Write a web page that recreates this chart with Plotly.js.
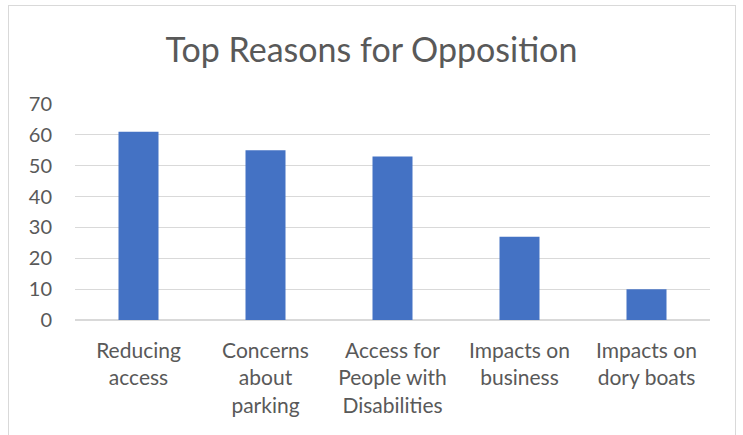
<!DOCTYPE html>
<html>
<head>
<meta charset="utf-8">
<script src="https://cdn.plot.ly/plotly-3.0.1.min.js"></script>
<style>
html,body{margin:0;padding:0;background:#fff;}
#frame{position:absolute;left:8px;top:5px;width:728px;height:440px;border:1px solid #d9d9d9;box-sizing:border-box;pointer-events:none;z-index:2;}
#chart{position:absolute;left:0;top:0;width:743px;height:435px;}
</style>
</head>
<body>
<div id="chart"></div>
<div id="frame"></div>
<script>
const categories = [
  "Reducing<br>access",
  "Concerns<br>about<br>parking",
  "Access for<br>People with<br>Disabilities",
  "Impacts on<br>business",
  "Impacts on<br>dory boats"
];
const values = [61, 55, 53, 27, 10];
const yTicks = [0, 10, 20, 30, 40, 50, 60, 70];

const font = "Lato, Open Sans, sans-serif";
const trace = {
  type: "bar",
  x: categories,
  y: values,
  marker: {color: "#4472C4"},
  hoverinfo: "x+y"
};
const layout = {
  width: 743,
  height: 435,
  margin: {l: 75, r: 33, t: 104, b: 115},
  paper_bgcolor: "#ffffff",
  plot_bgcolor: "#ffffff",
  bargap: 0.685,
  showlegend: false,
  title: {
    text: "Top Reasons for Opposition",
    font: {family: font, size: 34, color: "#595959"},
    x: 0.5, xanchor: "center",
    y: 0.885, yanchor: "middle"
  },
  xaxis: {
    type: "category",
    tickfont: {family: font, size: 21, color: "#595959"},
    showgrid: false,
    showline: false,
    ticks: "",
    ticklen: 0,
    ticklabelstandoff: 16,
    automargin: false
  },
  yaxis: {
    range: [0, 70],
    tickvals: yTicks,
    ticktext: yTicks.map(String),
    tickfont: {family: font, size: 20, color: "#595959"},
    showgrid: true,
    gridcolor: "#d9d9d9",
    gridwidth: 1,
    zeroline: true,
    zerolinecolor: "#d9d9d9",
    zerolinewidth: 1.5,
    showline: false,
    ticks: "",
    ticklabelstandoff: 22,
    automargin: false
  }
};
Plotly.newPlot("chart", [trace], layout, {displayModeBar: false, staticPlot: true});
</script>
</body>
</html>
